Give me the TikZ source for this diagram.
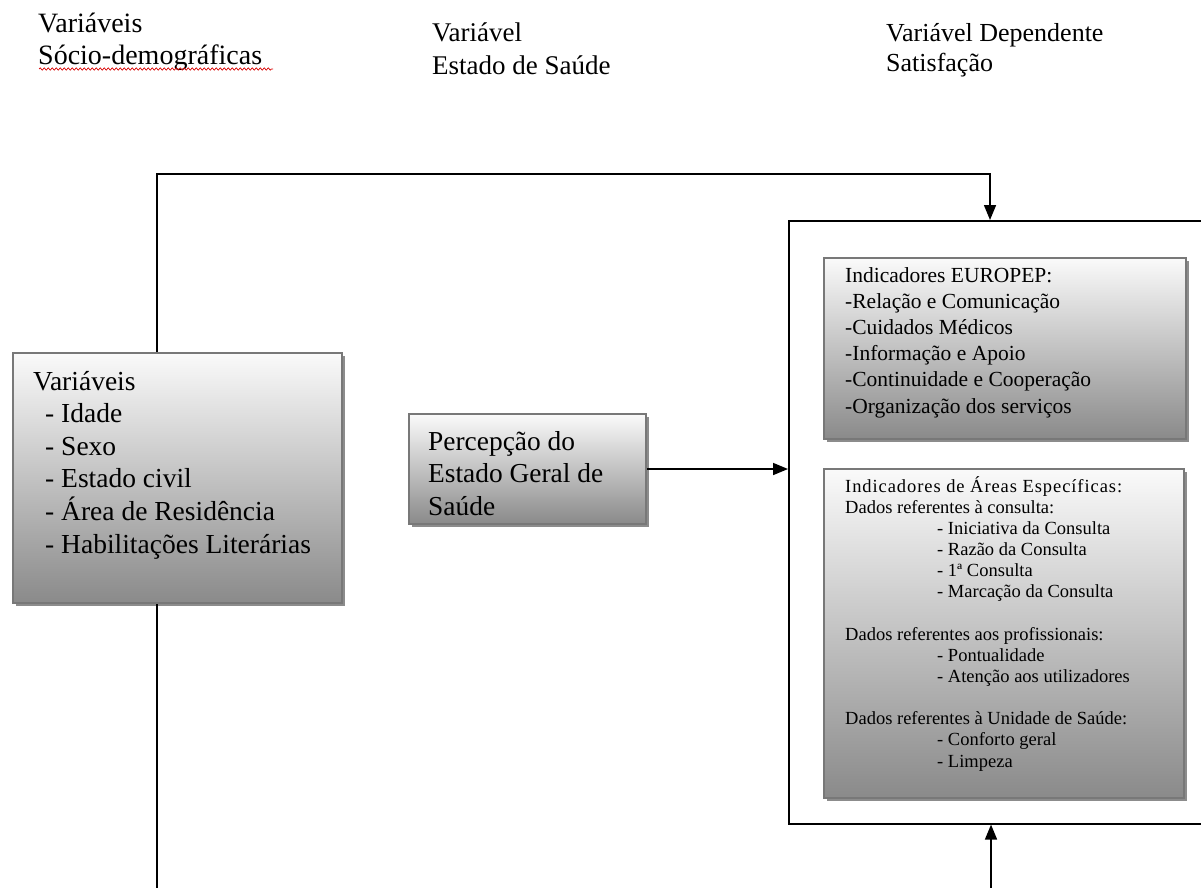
\documentclass[tikz,border=0pt]{standalone}
\usepackage{fontspec}
\setmainfont{Liberation Serif}
\newfontfamily\lsfont[LetterSpace=5]{Liberation Serif}
\usetikzlibrary{arrows.meta,shadows,decorations.pathmorphing}
\definecolor{boxtop}{RGB}{250,250,250}
\definecolor{boxbot}{RGB}{138,138,138}
\definecolor{boxline}{RGB}{120,120,120}
\begin{document}
\begin{tikzpicture}[x=1pt,y=-1pt,
  gbox/.style={draw=boxline, line width=2pt, top color=boxtop, bottom color=boxbot,
    anchor=north west, inner sep=0pt,
    drop shadow={shadow xshift=3pt, shadow yshift=-3pt, fill=black, opacity=0.45}},
  conn/.style={draw=black, line width=1.6pt},
  arr/.style={conn, -{Triangle[length=15pt,width=12pt]}},
  txt/.style={anchor=base west, inner sep=0pt, align=left},
]
\useasboundingbox (0,0) rectangle (1201,888);
\clip (0,0) rectangle (1201,888);
\fill[white] (0,0) rectangle (1201,888);

% titles (anchor = baseline of the last line)
\node[txt, font=\fontsize{28}{32}\selectfont] (t1) at (38,65) {Variáveis\\Sócio-demográficas};
\draw[red!85!black, line width=0.7pt, decorate,
  decoration={snake, amplitude=1.1pt, segment length=4pt}] (39,69) -- (273,69);
\node[txt, font=\fontsize{27}{33}\selectfont] (t2) at (432,75) {Variável\\Estado de Saúde};
\node[txt, font=\fontsize{26}{30}\selectfont] (t3) at (886,72) {Variável Dependente\\Satisfação};

% left box
\node[gbox, minimum width=329pt, minimum height=250pt] (lbox) at (12,352) {};
\node[txt, font=\fontsize{27.5}{32.6}\selectfont] (ltext) at (33,553)
  {Variáveis\\\hspace*{12pt}- Idade\\\hspace*{12pt}- Sexo\\\hspace*{12pt}- Estado civil\\\hspace*{12pt}- Área de Residência\\\hspace*{12pt}- Habilitações Literárias};

% middle box
\node[gbox, minimum width=237pt, minimum height=110pt] (mbox) at (408,413) {};
\node[txt, font=\fontsize{27.4}{32.5}\selectfont] (mtext) at (428,515)
  {Percepção do\\Estado Geral de\\Saúde};

% outer box
\node[draw=black, line width=1.6pt, fill=white, anchor=north west, inner sep=0pt,
  minimum width=460pt, minimum height=603pt] (outer) at (788,220) {};

% EUROPEP box
\node[gbox, minimum width=362pt, minimum height=181pt] (ebox) at (823,257) {};
\node[txt, font=\fontsize{21.5}{26.2}\selectfont] (etext) at (845,413)
  {Indicadores EUROPEP:\\-Relação e Comunicação\\-Cuidados Médicos\\-Informação e Apoio\\-Continuidade e Cooperação\\-Organização dos serviços};

% specific areas box
\node[gbox, minimum width=360pt, minimum height=329pt] (sbox) at (823,468) {};
\node[txt, font=\fontsize{18.5}{21.15}\selectfont] (stext) at (845,767)
  {{\lsfont Indicadores de Áreas Específicas:}\\
   Dados referentes à consulta:\\
   \hspace*{92pt}- Iniciativa da Consulta\\
   \hspace*{92pt}- Razão da Consulta\\
   \hspace*{92pt}- 1ª Consulta\\
   \hspace*{92pt}- Marcação da Consulta\\[21.15pt]
   Dados referentes aos profissionais:\\
   \hspace*{92pt}- Pontualidade\\
   \hspace*{92pt}- Atenção aos utilizadores\\[21.15pt]
   Dados referentes à Unidade de Saúde:\\
   \hspace*{92pt}- Conforto geral\\
   \hspace*{92pt}- Limpeza};

% connectors
\coordinate (tl) at (157,174);
\coordinate (tr) at (990,174);
\coordinate (bl) at (157,900);
\coordinate (br) at (991,900);
\draw[arr] (lbox.north -| tl) -- (tl) -- (tr) -- (outer.north -| tr);
\draw[conn] (lbox.south -| bl) -- (bl);
\draw[arr] (br) -- (outer.south -| br);
\draw[arr] (mbox.east) -- (mbox.east -| outer.west);
\end{tikzpicture}
\end{document}
